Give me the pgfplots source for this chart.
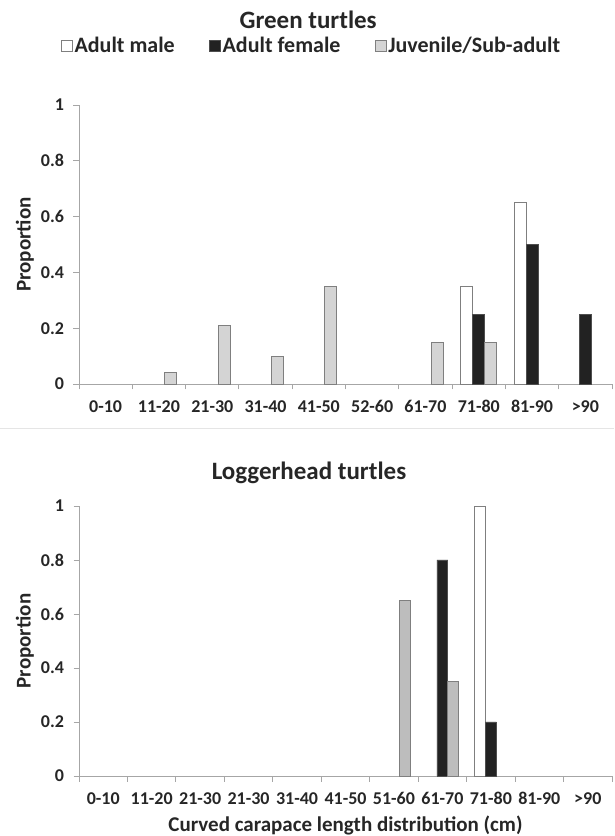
\documentclass[border=0pt]{standalone}
\usepackage{fontspec}
\setmainfont{Carlito}
\usepackage{pgfplots}
\pgfplotsset{compat=1.18}

\definecolor{axisgray}{HTML}{A6A6A6}
\definecolor{txt}{HTML}{262626}
\definecolor{edge}{HTML}{7F7F7F}
\definecolor{femblk}{HTML}{222222}
\definecolor{juvtop}{HTML}{D4D4D4}
\definecolor{juvbot}{HTML}{BDBDBD}

\newcommand{\tickfont}{\bfseries\fontsize{18}{20}\selectfont}
\newcommand{\labfont}{\bfseries\fontsize{21}{24}\selectfont}
\newcommand{\legfont}{\bfseries\fontsize{22}{25}\selectfont}
\newcommand{\titfont}{\bfseries\fontsize{25}{29}\selectfont}

\pgfplotsset{
  turtle/.style={
    scale only axis,
    anchor=south west,
    width=533pt,
    ymin=0, ymax=1,
    ytick={0,0.2,0.4,0.6,0.8,1},
    yticklabels={0,0.2,0.4,0.6,0.8,1},
    axis lines=left,
    axis line style={-, draw=axisgray, line width=0.9pt},
    tick align=outside,
    major tick length=5.5pt,
    tick style={draw=axisgray, line width=0.9pt},
    xticklabels={},
    extra x tick style={major tick length=0pt},
    /pgf/number format/assume math mode=true,
    ticklabel style={font=\tickfont, text=txt},
    xticklabel style={yshift=-13pt},
    yticklabel style={xshift=-6pt},
    ylabel={Proportion},
    ylabel style={font=\labfont, text=txt, at={(axis description cs:-0.1013,0.5)}, anchor=center},
    xlabel style={font=\labfont, text=txt, at={(axis description cs:0.5,-0.185)}, anchor=center},
    ybar=0pt,
    bar width=0.225,
    clip=false,
  },
  male/.style={fill=white, draw=edge, line width=0.9pt},
  female/.style={fill=femblk, draw=femblk!80, line width=0.9pt},
  juv/.style={fill=#1, draw=edge, line width=0.9pt},
}

\begin{document}
\begin{tikzpicture}
\path[use as bounding box] (0,0) rectangle (614pt,836pt);
\draw[black!10, line width=0.8pt] (0pt,408pt) -- (614pt,408pt);

% Green turtles
\begin{axis}[turtle,
  at={(79pt,452pt)},
  height=279pt,
  xmin=-0.5, xmax=9.5,
  xtick={-0.5,0.5,...,9.5},
  extra x ticks={0,1,2,3,4,5,6,7,8,9},
  extra x tick labels={0-10,11-20,21-30,31-40,41-50,52-60,61-70,71-80,81-90,>90},
  title={Green turtles},
  title style={font=\titfont, text=txt, at={(axis description cs:0.43,1.283)}, anchor=center},
  legend style={at={(0.436,1.213)}, anchor=center, draw=none, fill=none,
    legend columns=3, font=\legfont, text=txt,
    nodes={inner sep=1.5pt},
    /tikz/every even column/.append style={column sep=33pt}},
  legend image code/.code={\draw[#1] (0pt,-5.5pt) rectangle (11pt,5.5pt);},
]
\addplot[male] coordinates {(7,0.35) (8,0.65)};
\addplot[female] coordinates {(7,0.25) (8,0.50) (9,0.25)};
\addplot[juv=juvtop] coordinates {(1,0.04) (2,0.21) (3,0.10) (4,0.35) (6,0.15) (7,0.15)};
\legend{Adult male,Adult female,Juvenile/Sub-adult}
\end{axis}

% Loggerhead turtles
\begin{axis}[turtle,
  at={(79pt,60pt)},
  height=270pt,
  xmin=-0.5, xmax=10.5,
  xtick={-0.5,0.5,...,10.5},
  extra x ticks={0,1,2,3,4,5,6,7,8,9,10},
  extra x tick labels={0-10,11-20,21-30,21-30,31-40,41-50,51-60,61-70,71-80,81-90,>90},
  title={Loggerhead turtles},
  title style={font=\titfont, text=txt, at={(axis description cs:0.4315,1.10)}, anchor=center},
  xlabel={Curved carapace length distribution (cm)},
]
\addplot[male] coordinates {(8,1.00)};
\addplot[female] coordinates {(7,0.80) (8,0.20)};
\addplot[juv=juvbot] coordinates {(6,0.65) (7,0.35)};
\end{axis}
\end{tikzpicture}
\end{document}
